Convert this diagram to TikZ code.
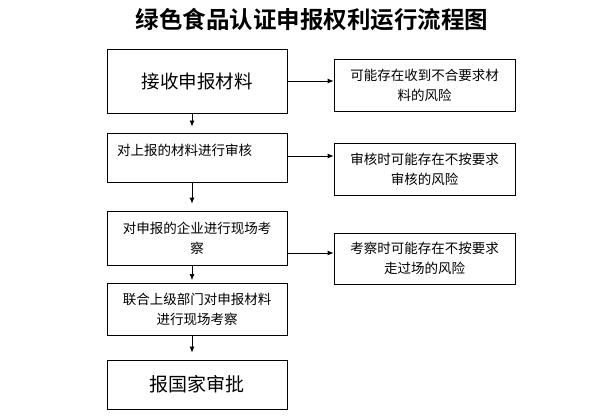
\documentclass[tikz,border=0pt]{standalone}
\usepackage{fontspec}
\newfontfamily\cjk{Noto Sans CJK SC}
\newfontfamily\cjkbold{Noto Sans CJK SC Bold}
\usetikzlibrary{arrows.meta}
\tikzset{
  box/.style={draw=black, line width=0.8pt, rectangle, inner sep=0pt, align=center},
  small/.style={font=\cjk\fontsize{13.5}{20}\selectfont},
  big/.style={font=\cjk\fontsize{18.5}{22}\selectfont},
  arr/.style={draw=black, line width=0.8pt, -{Latex[length=6pt,width=5pt]}},
}
\begin{document}
\begin{tikzpicture}[x=1pt,y=-1pt]
\useasboundingbox (0,0) rectangle (610,417);
\fill[white] (0,0) rectangle (610,417);
% title
\node[font=\cjkbold\fontsize{23.5}{26}\selectfont, inner sep=0pt] (title) at (312,20) {绿色食品认证申报权利运行流程图};
% left column
\node[box, big, minimum width=180pt, minimum height=64pt] (b1) at (197,81) {接收申报材料};
\node[box, minimum width=180pt, minimum height=49pt] (b2) at (197,157.5) {};
\node[small, anchor=west, inner sep=0pt] (t2) at (117,150) {对上报的材料进行审核};
\node[box, small, minimum width=180pt, minimum height=54pt] (b3) at (197,238) {\raisebox{-3pt}{\parbox{160pt}{\centering 对申报的企业进行现场考\\察}}};
\node[box, small, minimum width=180pt, minimum height=52pt] (b4) at (197,309.5) {联合上级部门对申报材料\\进行现场考察};
\node[box, font=\cjk\fontsize{19}{22}\selectfont, minimum width=180pt, minimum height=49pt] (b5) at (197,384.5) {报国家审批};
% right column
\node[box, small, minimum width=181pt, minimum height=52pt] (r1) at (424.5,85) {\raisebox{-2pt}{\parbox{170pt}{\centering 可能存在收到不合要求材\\料的风险}}};
\node[box, small, minimum width=181pt, minimum height=52pt] (r2) at (424.5,169) {审核时可能存在不按要求\\审核的风险};
\node[box, small, minimum width=181pt, minimum height=51pt] (r3) at (424.5,258.5) {考察时可能存在不按要求\\走过场的风险};
% helper coordinates
\coordinate (ax) at (192,0);
\coordinate (h1) at (0,81);
\coordinate (h2) at (0,156);
\coordinate (h3) at (0,253);
% vertical arrows
\draw[arr, shorten >=6pt] (b1.south -| ax) -- (b2.north -| ax);
\draw[arr, shorten >=7pt] (b2.south -| ax) -- (b3.north -| ax);
\draw[arr, shorten >=3pt] (b3.south -| ax) -- (b4.north -| ax);
\draw[arr, shorten >=7pt] (b4.south -| ax) -- (b5.north -| ax);
% horizontal arrows
\draw[arr] (b1.east |- h1) -- (r1.west |- h1);
\draw[arr] (b2.east |- h2) -- (r2.west |- h2);
\draw[arr] (b3.east |- h3) -- (r3.west |- h3);
\end{tikzpicture}
\end{document}
